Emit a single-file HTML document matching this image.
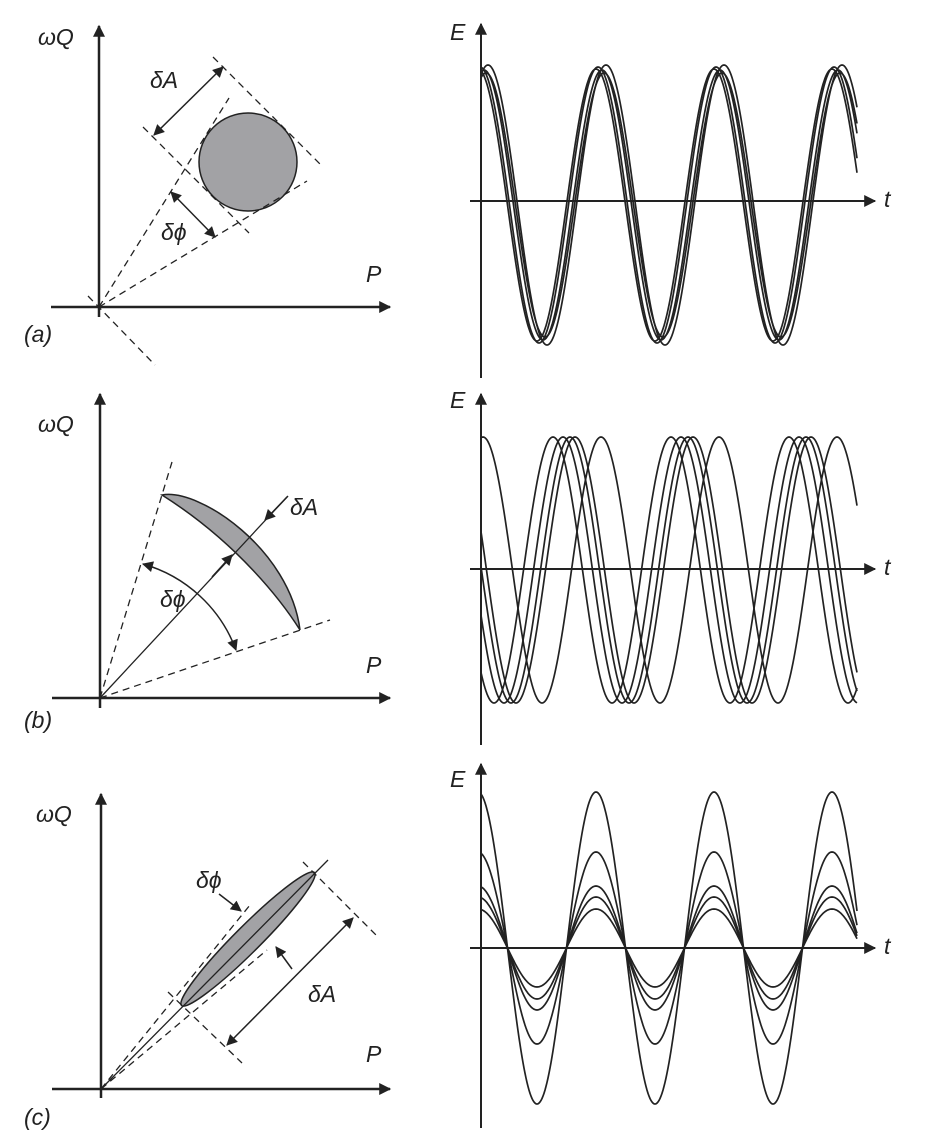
<!DOCTYPE html>
<html><head><meta charset="utf-8"><style>
html,body{margin:0;padding:0;background:#fff}
svg{display:block}
text{font-family:"Liberation Sans",sans-serif;font-style:italic;font-size:23px;fill:#222}
</style></head><body>
<svg id="s" width="937" height="1144" viewBox="0 0 937 1144" xmlns="http://www.w3.org/2000/svg">
<defs>
<marker id="ah" viewBox="0 0 10 10" refX="9" refY="5" markerWidth="16" markerHeight="12" orient="auto-start-reverse" markerUnits="userSpaceOnUse"><path d="M0,0L10,5L0,10z" fill="#222"/></marker>
<marker id="sh" viewBox="0 0 10 10" refX="9" refY="5" markerWidth="14" markerHeight="11" orient="auto-start-reverse" markerUnits="userSpaceOnUse"><path d="M0,0L10,5L0,10z" fill="#222"/></marker>
</defs>
<g stroke="#222" fill="none">
<line x1="99" y1="317" x2="99" y2="26" stroke-width="2.5" marker-end="url(#ah)"/>
<line x1="51" y1="307" x2="390" y2="307" stroke-width="2.5" marker-end="url(#ah)"/>
<circle cx="248" cy="162" r="49" fill="#a2a2a5" stroke-width="1.5"/>
<g stroke-dasharray="7,5" stroke-width="1.3">
<line x1="213" y1="57" x2="322" y2="166"/>
<line x1="143" y1="127" x2="249" y2="233"/>
<line x1="99" y1="307" x2="229" y2="98"/>
<line x1="99" y1="307" x2="307" y2="181"/>
<line x1="88" y1="296" x2="155" y2="365"/>
</g>
<line x1="154" y1="135" x2="223" y2="67" stroke-width="1.5" marker-start="url(#sh)" marker-end="url(#sh)"/>
<line x1="171" y1="192" x2="215" y2="237" stroke-width="1.5" marker-start="url(#sh)" marker-end="url(#sh)"/>
<line x1="100" y1="708" x2="100" y2="394" stroke-width="2.5" marker-end="url(#ah)"/>
<line x1="52" y1="698" x2="390" y2="698" stroke-width="2.5" marker-end="url(#ah)"/>
<path d="M162,495 C200,488 290,550 300,630 C283,603 238,543 162,495Z" fill="#a2a2a5" stroke-width="1.5"/>
<g stroke-dasharray="7,5" stroke-width="1.3">
<line x1="100" y1="698" x2="172" y2="462"/>
<line x1="100" y1="698" x2="330" y2="620"/>
</g>
<line x1="100" y1="698" x2="287" y2="497" stroke-width="1.3"/>
<line x1="288" y1="496" x2="265" y2="520" stroke-width="1.5" marker-end="url(#sh)"/>
<line x1="212" y1="577" x2="232" y2="555" stroke-width="1.5" marker-end="url(#sh)"/>
<path d="M143,564 A140,140 0 0 1 236,650" stroke-width="1.5" marker-start="url(#sh)" marker-end="url(#sh)"/>
<line x1="101" y1="1098" x2="101" y2="794" stroke-width="2.5" marker-end="url(#ah)"/>
<line x1="52" y1="1089" x2="390" y2="1089" stroke-width="2.5" marker-end="url(#ah)"/>
<ellipse cx="248" cy="939" rx="94" ry="13" transform="rotate(-45 248 939)" fill="#a2a2a5" stroke-width="1.5"/>
<line x1="101" y1="1089" x2="328" y2="860" stroke-width="1.3"/>
<g stroke-dasharray="7,5" stroke-width="1.3">
<line x1="101" y1="1089" x2="250" y2="905"/>
<line x1="101" y1="1089" x2="267" y2="950"/>
<line x1="303" y1="862" x2="378" y2="937"/>
<line x1="168" y1="992" x2="242" y2="1063"/>
</g>
<line x1="353" y1="918" x2="227" y2="1045" stroke-width="1.5" marker-start="url(#sh)" marker-end="url(#sh)"/>
<line x1="219" y1="894" x2="241" y2="911" stroke-width="1.5" marker-end="url(#sh)"/>
<line x1="292" y1="969" x2="276" y2="947" stroke-width="1.5" marker-end="url(#sh)"/>
<line x1="481" y1="378" x2="481" y2="24" stroke-width="2" marker-end="url(#ah)"/>
<line x1="470" y1="201" x2="875" y2="201" stroke-width="2" marker-end="url(#ah)"/>
<line x1="481" y1="745" x2="481" y2="394" stroke-width="2" marker-end="url(#ah)"/>
<line x1="470" y1="569" x2="875" y2="569" stroke-width="2" marker-end="url(#ah)"/>
<line x1="481" y1="1128" x2="481" y2="764" stroke-width="2" marker-end="url(#ah)"/>
<line x1="470" y1="948" x2="875" y2="948" stroke-width="2" marker-end="url(#ah)"/>
<g id="waves" stroke-width="1.7"></g>
</g>
<text x="38" y="45">ωQ</text><text x="366" y="282">P</text><text x="24" y="342">(a)</text>
<text x="150" y="88">δA</text><text x="161" y="240">δϕ</text>
<text x="38" y="432">ωQ</text><text x="366" y="673">P</text><text x="24" y="728">(b)</text>
<text x="290" y="515">δA</text><text x="160" y="607">δϕ</text>
<text x="36" y="822">ωQ</text><text x="366" y="1062">P</text><text x="24" y="1125">(c)</text>
<text x="196" y="888">δϕ</text><text x="308" y="1002">δA</text>
<text x="450" y="40">E</text><text x="884" y="207">t</text>
<text x="450" y="408">E</text><text x="884" y="575">t</text>
<text x="450" y="787">E</text><text x="884" y="954">t</text>
</svg>
<script>
var g=document.getElementById('waves'),P=118;
function w(c,A,pk){var d='';for(var x=481;x<=857;x+=1){var y=c-A*Math.cos(2*Math.PI*(x-pk)/P);d+=(x==481?'M':'L')+x+','+y.toFixed(1);}
var p=document.createElementNS('http://www.w3.org/2000/svg','path');p.setAttribute('d',d);g.appendChild(p);}
[[138,480],[135,484],[140,488],[132,486],[136,478]].forEach(function(a){w(205,a[0],a[1]);});
[[133,483],[133,553],[133,563],[133,570],[133,575]].forEach(function(a){w(570,a[0],a[1]);});
[156,96,62,51,39].forEach(function(a){w(948,a,478);});
</script>
</body></html>
